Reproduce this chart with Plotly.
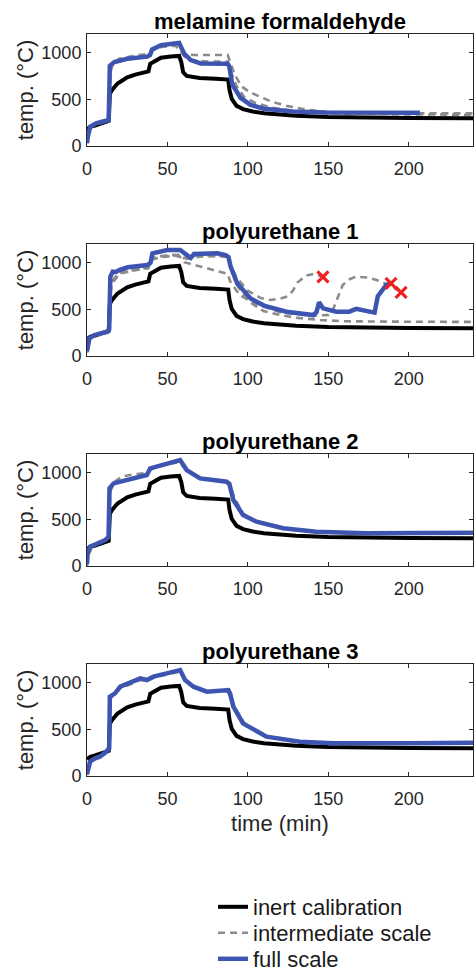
import plotly.graph_objects as go

# ---------------- data ----------------
titles = ["melamine formaldehyde", "polyurethane 1", "polyurethane 2", "polyurethane 3"]
x_ticks = [0, 50, 100, 150, 200]
y_ticks = [0, 500, 1000]

# inert calibration (same in every panel)
t_inert = [0, 1, 2, 5, 10, 13.5, 14.2, 16, 19, 25, 30, 36.5, 38.2, 39.3, 42, 46, 52, 57.3, 58.6, 59.8,
           62, 70, 80, 87.8, 88.6, 90, 93, 97, 103, 110, 120, 130, 150, 175, 200, 240]
T_inert = [180, 195, 205, 220, 250, 270, 560, 610, 670, 735, 765, 790, 800, 880, 910, 945, 960, 965, 900, 790,
           750, 728, 720, 712, 600, 505, 430, 395, 370, 352, 338, 325, 310, 303, 300, 298]

# melamine formaldehyde
mf_full_t = [0, 0.5, 2, 5.6, 11.8, 13.5, 14.2, 17, 25, 37.5, 39.2, 40.5, 46, 52, 57.3, 60.4, 64.5, 70.7, 80,
             87.5, 88.5, 90.3, 95.5, 101.7, 110, 128, 148, 175, 207]
mf_full_T = [30, 100, 207, 243, 270, 280, 860, 900, 935, 957, 975, 1035, 1080, 1095, 1105, 990, 920, 885, 883,
             882, 850, 660, 515, 440, 400, 370, 358, 355, 355]
mf_int1_t = [0, 1, 2, 5, 12, 13.5, 14.5, 16, 20, 30, 37.5, 39.5, 41, 46, 52, 57, 59, 61, 66, 75, 86, 87.5, 89,
             92, 96, 101, 106, 114, 124, 138, 150, 170, 200, 240]
mf_int1_T = [40, 150, 210, 245, 275, 285, 780, 880, 935, 970, 985, 1000, 1040, 1065, 1075, 1085, 1050, 990, 975,
             975, 980, 975, 900, 760, 640, 580, 540, 480, 430, 385, 365, 355, 350, 350]
mf_int2_t = [0, 2, 12, 13.5, 14.5, 17, 25, 38, 40, 46, 55, 58, 61, 65, 75, 87.5, 89, 93, 98, 105, 115, 130,
             150, 180, 240]
mf_int2_T = [40, 205, 270, 280, 820, 890, 930, 955, 1020, 1060, 1075, 1020, 950, 920, 905, 905, 820, 640, 520,
             460, 410, 370, 350, 340, 335]

# polyurethane 1
pu1_full_t = [0, 0.5, 1.5, 4.6, 12.8, 13.8, 14.5, 16, 18, 20, 25.3, 37.6, 39.5, 40.7, 45, 50, 58, 61, 64.5,
              66.5, 75, 81, 86.2, 88, 89.3, 93.4, 101.7, 110, 124, 140.6, 142.7, 144.3, 146.8, 155, 163, 167.4,
              178.8, 180.8, 186, 189]
pu1_full_T = [50, 100, 189, 225, 260, 285, 850, 903, 900, 920, 950, 975, 1000, 1100, 1120, 1135, 1135, 1090,
              1050, 1092, 1100, 1100, 1082, 1060, 957, 778, 617, 540, 475, 439, 470, 575, 510, 475, 475, 505,
              464, 640, 760, 778]
pu1_int1_t = [0, 2, 12, 13.5, 15, 20, 30, 38, 40, 46, 52, 57, 60, 66, 75, 85, 87.5, 89, 93, 100, 108, 114,
              120, 125, 128, 131, 136, 141, 146.7]
pu1_int1_T = [40, 200, 265, 285, 780, 900, 925, 945, 1050, 1070, 1080, 1085, 1050, 1075, 1080, 1075, 1060, 980,
              840, 700, 620, 600, 615, 640, 700, 790, 860, 880, 849]
pu1_int2_t = [0, 2, 12, 13.5, 15, 20, 30, 38, 40, 46, 55, 58, 60.5, 70, 80, 87.5, 89, 95, 105, 120, 140, 150,
              153, 156, 159, 163, 167, 175, 180, 188, 195.3]
pu1_int2_T = [40, 195, 260, 280, 760, 880, 920, 940, 1030, 1060, 1075, 1060, 1005, 960, 910, 880, 800, 650,
              560, 470, 430, 440, 500, 640, 760, 820, 850, 840, 814, 760, 682]
pu1_int3_t = [0, 2, 12, 13.5, 15, 20, 30, 38, 40, 46, 55, 58, 62, 70, 80, 87.5, 89, 93, 100, 110, 120, 130,
              145, 160, 190, 240]
pu1_int3_T = [40, 200, 262, 282, 790, 890, 930, 950, 1040, 1065, 1080, 1070, 1040, 1065, 1070, 1060, 960, 770,
              590, 480, 440, 410, 385, 372, 368, 365]
pu1_fail_t = [146.7, 189, 195.3]
pu1_fail_T = [849, 778, 682]

# polyurethane 2
pu2_full_t = [0, 0.4, 1.9, 6, 11.4, 13.4, 14, 16.5, 29, 37.2, 39.3, 49.6, 57.9, 62, 70.3, 78.5, 86.8, 88.5,
              91, 97, 105.4, 121.9, 142.5, 173.5, 240]
pu2_full_T = [20, 136, 207, 243, 278, 314, 832, 885, 939, 975, 1046, 1100, 1135, 1028, 939, 921, 903, 880,
              707, 546, 475, 404, 368, 350, 357]
pu2_int_t = [0, 1, 3, 6, 12, 13.5, 14.5, 17, 22, 30, 37, 39.5, 45, 50, 56, 58, 62, 70, 80, 87, 89, 92, 97,
             105, 120, 140, 170, 240]
pu2_int_T = [0, 120, 200, 235, 275, 300, 800, 900, 960, 985, 995, 1030, 1070, 1090, 1110, 1100, 1020, 940,
             915, 905, 850, 720, 560, 480, 410, 370, 352, 350]

# polyurethane 3
pu3_full_t = [0, 0.4, 1.9, 5, 8, 11.4, 13.8, 14.2, 17.4, 20.7, 25, 29, 33.1, 37.2, 41.3, 49.6, 57.9, 61,
              66.2, 74.5, 82.7, 87.9, 89, 91, 97, 111.6, 132.3, 153, 200, 240]
pu3_full_T = [20, 46, 154, 189, 207, 250, 296, 850, 885, 957, 985, 1010, 1046, 1028, 1064, 1100, 1135, 1028,
              957, 903, 921, 921, 880, 743, 564, 421, 368, 350, 352, 357]
pu3_int_t = [0, 1, 3, 6, 11, 13.5, 14.5, 17, 21, 29, 33, 37, 41, 50, 57, 59, 62, 67, 75, 83, 87.5, 89, 92,
             98, 112, 132, 155, 200, 240]
pu3_int_T = [10, 120, 180, 200, 240, 290, 830, 875, 945, 995, 1030, 1020, 1050, 1090, 1115, 1090, 1010, 945,
             895, 910, 905, 860, 730, 560, 420, 370, 352, 350, 352]

panels = [
    {"full": (mf_full_t, mf_full_T), "int": [(mf_int1_t, mf_int1_T), (mf_int2_t, mf_int2_T)], "fail": None},
    {"full": (pu1_full_t, pu1_full_T),
     "int": [(pu1_int1_t, pu1_int1_T), (pu1_int2_t, pu1_int2_T), (pu1_int3_t, pu1_int3_T)],
     "fail": (pu1_fail_t, pu1_fail_T)},
    {"full": (pu2_full_t, pu2_full_T), "int": [(pu2_int_t, pu2_int_T)], "fail": None},
    {"full": (pu3_full_t, pu3_full_T), "int": [(pu3_int_t, pu3_int_T)], "fail": None},
]

# ---------------- styling ----------------
W, H = 474, 977
FONT = "Liberation Sans, Arial, Helvetica, sans-serif"
AX = "#262626"
C_INERT = "#000000"
C_INT = "#8c8c8c"
C_FULL = "#3d55b0"
C_FAIL = "#f02020"

plot_tops = [34, 244, 454, 664]
plot_h = 112

fig = go.Figure()
legend_done = {"inert": False, "int": False, "full": False}

for i, p in enumerate(panels):
    xa = "x" if i == 0 else f"x{i+1}"
    ya = "y" if i == 0 else f"y{i+1}"
    fig.add_trace(go.Scatter(x=t_inert, y=T_inert, mode="lines", name="inert calibration",
                             line=dict(color=C_INERT, width=4), xaxis=xa, yaxis=ya,
                             showlegend=not legend_done["inert"], legendgroup="inert", legend="legend"))
    legend_done["inert"] = True
    for (tt, TT) in p["int"]:
        fig.add_trace(go.Scatter(x=tt, y=TT, mode="lines", name="intermediate scale",
                                 line=dict(color=C_INT, width=2.6, dash="7px,5px"), xaxis=xa, yaxis=ya,
                                 showlegend=not legend_done["int"], legendgroup="int", legend="legend2"))
        legend_done["int"] = True
    ft, fT = p["full"]
    fig.add_trace(go.Scatter(x=ft, y=fT, mode="lines", name="full scale",
                             line=dict(color=C_FULL, width=4.5), xaxis=xa, yaxis=ya,
                             showlegend=not legend_done["full"], legendgroup="full", legend="legend3"))
    legend_done["full"] = True
    if p["fail"] is not None:
        fig.add_trace(go.Scatter(x=p["fail"][0], y=p["fail"][1], mode="markers", showlegend=False,
                                 marker=dict(symbol="x-thin", size=11, color=C_FAIL,
                                             line=dict(color=C_FAIL, width=3.2)),
                                 xaxis=xa, yaxis=ya))

ml, mr = 87, 1
legend_rows = [907, 933, 959]


def legend_cfg(row_y):
    return dict(x=(213 - ml) / (W - ml - mr), xanchor="left",
                y=1 - row_y / H, yanchor="middle",
                font=dict(size=22, color="#1a1a1a", family=FONT),
                bgcolor="rgba(0,0,0,0)", itemwidth=30)


layout = dict(
    width=W, height=H,
    margin=dict(l=ml, r=mr, t=0, b=0, autoexpand=False),
    paper_bgcolor="white", plot_bgcolor="white",
    font=dict(family=FONT, size=18, color=AX),
    showlegend=True,
    legend=legend_cfg(legend_rows[0]),
    legend2=legend_cfg(legend_rows[1]),
    legend3=legend_cfg(legend_rows[2]),
)

annotations = []
for i in range(4):
    top = plot_tops[i]
    bot = top + plot_h
    xk = "xaxis" if i == 0 else f"xaxis{i+1}"
    yk = "yaxis" if i == 0 else f"yaxis{i+1}"
    ya_anchor = "y" if i == 0 else f"y{i+1}"
    xa_anchor = "x" if i == 0 else f"x{i+1}"
    layout[xk] = dict(domain=[0, 1], anchor=ya_anchor, range=[0, 240], tickvals=x_ticks,
                      ticks="inside", ticklen=4, tickwidth=1, tickcolor=AX,
                      showline=True, linecolor=AX, linewidth=1, mirror="ticks",
                      showgrid=False, zeroline=False, tickfont=dict(size=18, color=AX),
                      ticklabelstandoff=6)
    if i == 3:
        layout[xk]["title"] = dict(text="time (min)", font=dict(size=22, color=AX), standoff=8)
    layout[yk] = dict(domain=[1 - bot / H, 1 - top / H], anchor=xa_anchor, range=[0, 1200],
                      tickvals=y_ticks, ticks="inside", ticklen=4, tickwidth=1, tickcolor=AX,
                      showline=True, linecolor=AX, linewidth=1, mirror="ticks",
                      showgrid=False, zeroline=False, tickfont=dict(size=18, color=AX),
                      ticklabelstandoff=1,
                      title=dict(text="temp. (°C)", font=dict(size=22, color=AX), standoff=1))
    annotations.append(dict(text="<b>" + titles[i] + "</b>", xref="paper", yref="paper",
                            x=0.5, y=1 - (top - 12.5) / H, xanchor="center", yanchor="middle",
                            showarrow=False, font=dict(size=22, color="#000000", family=FONT)))
layout["annotations"] = annotations
fig.update_layout(**layout)

fig.write_html("out.html",
               config={"displayModeBar": False},
               post_script="document.body.style.margin='0px';document.body.style.padding='0px';"
                           "window.dispatchEvent(new Event('resize'));")
